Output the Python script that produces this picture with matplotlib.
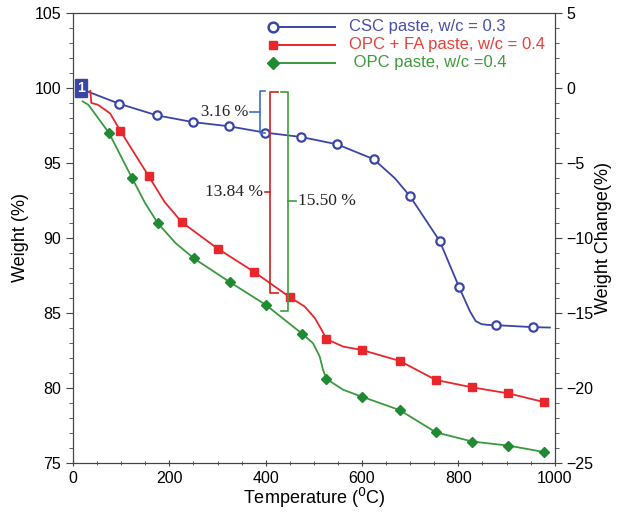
import matplotlib
matplotlib.use("Agg")
import matplotlib.pyplot as plt
from matplotlib.ticker import MultipleLocator

plt.rcParams['font.family'] = ['Liberation Sans', 'DejaVu Sans']

# --- data (temperature in C, weight in %) ---
# CSC paste, w/c = 0.3
csc_curve_t = [31, 96, 174, 249, 324, 398, 473, 548, 624, 668, 699, 761, 801, 824, 836, 848, 860, 878, 954, 990]
csc_curve_w = [99.75, 98.94, 98.17, 97.72, 97.44, 97.02, 96.73, 96.24, 95.25, 93.98, 92.8, 89.8, 86.75, 85.1, 84.45, 84.25, 84.2, 84.18, 84.05, 84.02]
csc_mark_t = [96, 174, 249, 324, 398, 473, 548, 624, 699, 761, 801, 878, 954]
csc_mark_w = [98.94, 98.17, 97.72, 97.44, 97.02, 96.73, 96.24, 95.25, 92.8, 89.8, 86.75, 84.18, 84.05]

# OPC + FA paste, w/c = 0.4
fa_curve_t = [36, 38, 52, 77, 98, 157, 190, 226, 300, 376, 450, 481, 502, 516, 526, 561, 599, 678, 753, 829, 904, 978]
fa_curve_w = [99.8, 99.0, 98.87, 98.3, 97.15, 94.12, 92.4, 91.04, 89.29, 87.73, 86.05, 85.42, 84.65, 83.87, 83.25, 82.75, 82.53, 81.8, 80.53, 80.03, 79.63, 79.05]
fa_mark_t = [98, 157, 226, 300, 376, 450, 526, 599, 678, 753, 829, 904, 978]
fa_mark_w = [97.15, 94.12, 91.04, 89.29, 87.73, 86.05, 83.25, 82.53, 81.8, 80.53, 80.03, 79.63, 79.05]

# OPC paste, w/c = 0.4
opc_curve_t = [20, 32, 75, 123, 150, 176, 213, 251, 326, 400, 476, 498, 512, 519, 526, 561, 599, 678, 753, 829, 904, 978]
opc_curve_w = [99.1, 98.87, 96.98, 93.96, 92.3, 90.98, 89.65, 88.63, 87.04, 85.54, 83.6, 82.98, 82.1, 81.2, 80.6, 79.87, 79.42, 78.52, 77.04, 76.42, 76.15, 75.72]
opc_mark_t = [75, 123, 176, 251, 326, 400, 476, 526, 599, 678, 753, 829, 904, 978]
opc_mark_w = [96.98, 93.96, 90.98, 88.63, 87.04, 85.54, 83.6, 80.6, 79.42, 78.52, 77.04, 76.42, 76.15, 75.72]

labels = ['CSC paste, w/c = 0.3', 'OPC + FA paste, w/c = 0.4', ' OPC paste, w/c =0.4']
line_colors = ['#3b45a8', '#e8262b', '#3a9a3e']
text_colors = ['#4a4fa6', '#e8403a', '#3f9a3a']

fig = plt.figure(figsize=(6.24, 5.16), dpi=100)
ax = fig.add_axes([0.117, 0.103, 0.772, 0.872])

# curves
ax.plot(csc_curve_t, csc_curve_w, color=line_colors[0], lw=1.3)
ax.plot(fa_curve_t, fa_curve_w, color=line_colors[1], lw=1.3)
ax.plot(opc_curve_t, opc_curve_w, color=line_colors[2], lw=1.3)

# markers
ax.plot(csc_mark_t, csc_mark_w, ls='none', marker='o', ms=6, mfc='white',
        mec=line_colors[0], mew=1.6)
ax.plot(fa_mark_t, fa_mark_w, ls='none', marker='s', ms=5.5, color='#e8262b')
ax.plot(opc_mark_t, opc_mark_w, ls='none', marker='D', ms=5, color='#1f8a32')

# "1" box at the start
ax.text(16, 100, '1', color='white', fontsize=10, fontweight='bold',
        ha='center', va='center',
        bbox=dict(boxstyle='square,pad=0.15', fc='#3b45a8', ec='#3b45a8'))

# brackets
def bracket(x, hook_x, y0, y1, tick_x, color):
    ax.plot([hook_x, x, x, hook_x], [y0, y0, y1, y1], color=color, lw=1.2)
    ym = (y0 + y1) / 2
    ax.plot([x, tick_x], [ym, ym], color=color, lw=1.2)
    return ym

ym = bracket(388, 398, 99.8, 97.0, 368, '#3b6fd0')
ax.text(365, ym, '3.16 %', family='Liberation Serif', fontsize=12,
        ha='right', va='center', color='#222222')
ym = bracket(409, 425, 99.73, 86.33, 398, '#d02020')
ax.text(394, ym, '13.84 %', family='Liberation Serif', fontsize=12.5,
        ha='right', va='center', color='#222222')
ym = bracket(446, 432, 99.73, 85.13, 462, '#3aa03a')
ax.text(467, ym, '15.50 %', family='Liberation Serif', fontsize=12.5,
        ha='left', va='center', color='#222222')

# axes
ax.set_xlim(0, 1000)
ax.set_ylim(75, 105)
ax.xaxis.set_major_locator(MultipleLocator(200))
ax.xaxis.set_minor_locator(MultipleLocator(50))
ax.yaxis.set_major_locator(MultipleLocator(5))
ax.yaxis.set_minor_locator(MultipleLocator(1))
ax.tick_params(axis='both', which='major', labelsize=11.5, length=5, color='#444444')
ax.tick_params(axis='both', which='minor', length=3, color='#444444')
ax.tick_params(axis='x', which='both', direction='inout')
ax.set_xlabel('Temperature ($^{0}$C)', fontsize=13, labelpad=0)
ax.set_ylabel('Weight (%)', fontsize=13, labelpad=4)
for s in ax.spines.values():
    s.set_color('#444444')

ax2 = ax.twinx()
ax2.set_ylim(-25, 5)
ax2.yaxis.set_major_locator(MultipleLocator(5))
ax2.yaxis.set_minor_locator(MultipleLocator(1))
ax2.tick_params(axis='y', which='major', labelsize=11.5, length=5, color='#444444')
ax2.tick_params(axis='y', which='minor', length=3, color='#444444')
ax2.set_ylabel('Weight Change(%)', fontsize=13, labelpad=1)
for s in ax2.spines.values():
    s.set_color('#444444')

# legend drawn by hand (marker at the left end of the sample line)
markers = [dict(marker='o', mfc='white', mec=line_colors[0], mew=1.8, ms=7),
           dict(marker='s', mfc=line_colors[1], mec=line_colors[1], ms=6),
           dict(marker='D', mfc='#1f8a32', mec='#1f8a32', ms=6)]
rows = [0.969, 0.929, 0.889]
for lab, lc, tc, mk, yy in zip(labels, line_colors, text_colors, markers, rows):
    ax.plot([0.415, 0.544], [yy, yy], color=lc, lw=1.4, transform=ax.transAxes)
    ax.plot([0.415], [yy], ls='none', transform=ax.transAxes, **mk)
    ax.text(0.573, yy, lab, color=tc, fontsize=12, va='center', ha='left',
            transform=ax.transAxes)

fig.savefig('out.png', dpi=100)
